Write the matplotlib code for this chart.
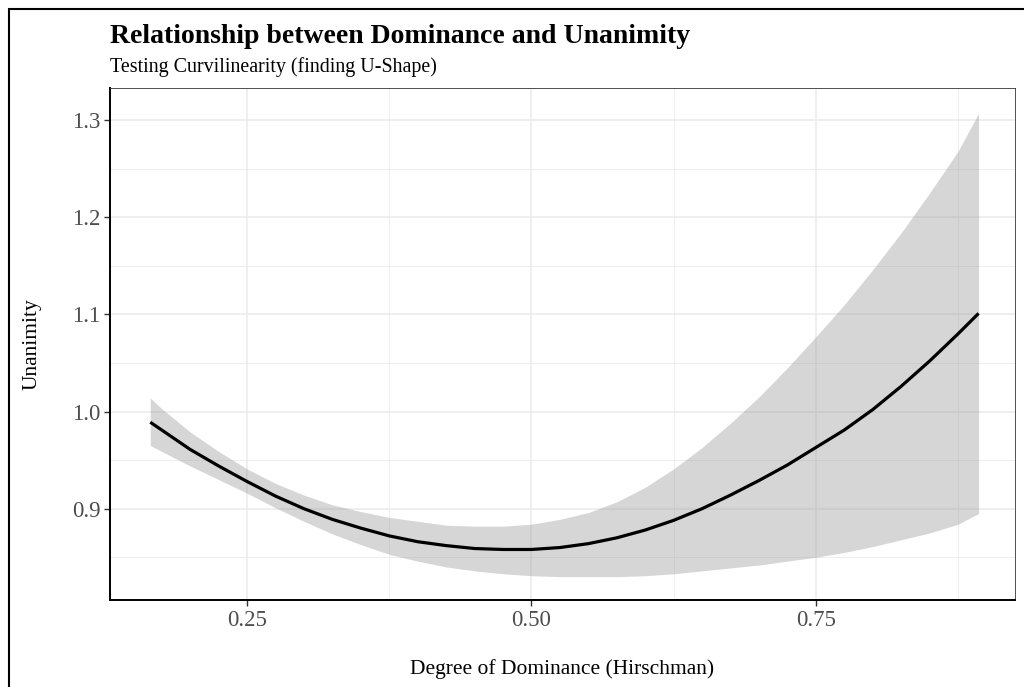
import matplotlib
matplotlib.use("Agg")
import matplotlib.pyplot as plt
from matplotlib.patches import Rectangle
from matplotlib.ticker import MultipleLocator

plt.rcParams['font.family'] = ['Liberation Serif', 'DejaVu Serif']

# values
dominance = [0.165, 0.175, 0.20, 0.225, 0.25, 0.275, 0.30, 0.325, 0.35, 0.375, 0.40, 0.425,
             0.45, 0.475, 0.50, 0.525, 0.55, 0.575, 0.60, 0.625, 0.65, 0.675, 0.70, 0.725,
             0.75, 0.775, 0.80, 0.825, 0.85, 0.875, 0.893]
fit = [0.989, 0.981, 0.961, 0.944, 0.928, 0.913, 0.900, 0.889, 0.880, 0.872, 0.866, 0.862,
       0.859, 0.858, 0.858, 0.860, 0.864, 0.870, 0.878, 0.888, 0.900, 0.914, 0.929, 0.945,
       0.963, 0.981, 1.002, 1.026, 1.052, 1.080, 1.101]
ci_low = [0.965, 0.959, 0.944, 0.930, 0.916, 0.901, 0.887, 0.874, 0.863, 0.853, 0.846, 0.840,
          0.836, 0.833, 0.831, 0.830, 0.830, 0.830, 0.831, 0.833, 0.836, 0.839, 0.842, 0.846,
          0.850, 0.855, 0.861, 0.868, 0.875, 0.884, 0.895]
ci_high = [1.014, 1.003, 0.979, 0.959, 0.941, 0.926, 0.914, 0.904, 0.897, 0.891, 0.887, 0.883,
           0.882, 0.882, 0.884, 0.889, 0.896, 0.907, 0.922, 0.941, 0.963, 0.988, 1.015, 1.045,
           1.077, 1.110, 1.146, 1.184, 1.225, 1.268, 1.307]

x_ticks = [0.25, 0.50, 0.75]
x_labels = ['0.25', '0.50', '0.75']
y_ticks = [0.9, 1.0, 1.1, 1.2, 1.3]
y_labels = ['0.9', '1.0', '1.1', '1.2', '1.3']

fig = plt.figure(figsize=(10.24, 6.87), dpi=100)
ax = fig.add_axes([110/1024, 1-600/687, 905/1024, 512/687])

ax.fill_between(dominance, ci_low, ci_high, color='#999999', alpha=0.4, linewidth=0, zorder=2)
ax.plot(dominance, fit, color='black', linewidth=2.3, zorder=3, solid_capstyle='butt')

ax.set_xlim(0.1296, 0.925)
ax.set_ylim(0.806, 1.333)
ax.set_xticks(x_ticks)
ax.set_xticklabels(x_labels)
ax.set_yticks(y_ticks)
ax.set_yticklabels(y_labels)
ax.xaxis.set_minor_locator(MultipleLocator(0.125))
ax.yaxis.set_minor_locator(MultipleLocator(0.05))
ax.grid(which='major', color='#ebebeb', linewidth=1.1, zorder=0)
ax.grid(which='minor', color='#ebebeb', linewidth=0.6, zorder=0)
ax.set_axisbelow(True)
ax.tick_params(which='major', direction='out', length=4, width=1, color='#333333',
               labelsize=16.5, labelcolor='#4d4d4d', pad=3)
ax.tick_params(which='minor', length=0)

for side in ['top', 'right']:
    ax.spines[side].set_color('#333333')
    ax.spines[side].set_linewidth(0.6)
for side in ['left', 'bottom']:
    ax.spines[side].set_color('black')
    ax.spines[side].set_linewidth(1.4)

ax.set_xlabel('Degree of Dominance (Hirschman)', fontsize=15.5, va='top')
ax.xaxis.set_label_coords(562/1024, 1-659/687, transform=fig.transFigure)
ax.set_ylabel('Unanimity', fontsize=15.5)
ax.yaxis.set_label_coords(42/1024, 1-344/687, transform=fig.transFigure)

fig.text(110/1024, 1-43/687, 'Relationship between Dominance and Unanimity',
         fontsize=20, fontweight='bold', ha='left', va='baseline')
fig.text(110/1024, 1-72/687, 'Testing Curvilinearity (finding U-Shape)',
         fontsize=14.4, ha='left', va='baseline')

# outer border, cut off on the right and bottom
fig.patches.append(Rectangle((9/1024, -0.1), 1.2, 1.1 - 9/687, transform=fig.transFigure,
                             fill=False, edgecolor='black', linewidth=1.5))

fig.savefig('out.png', dpi=100)
